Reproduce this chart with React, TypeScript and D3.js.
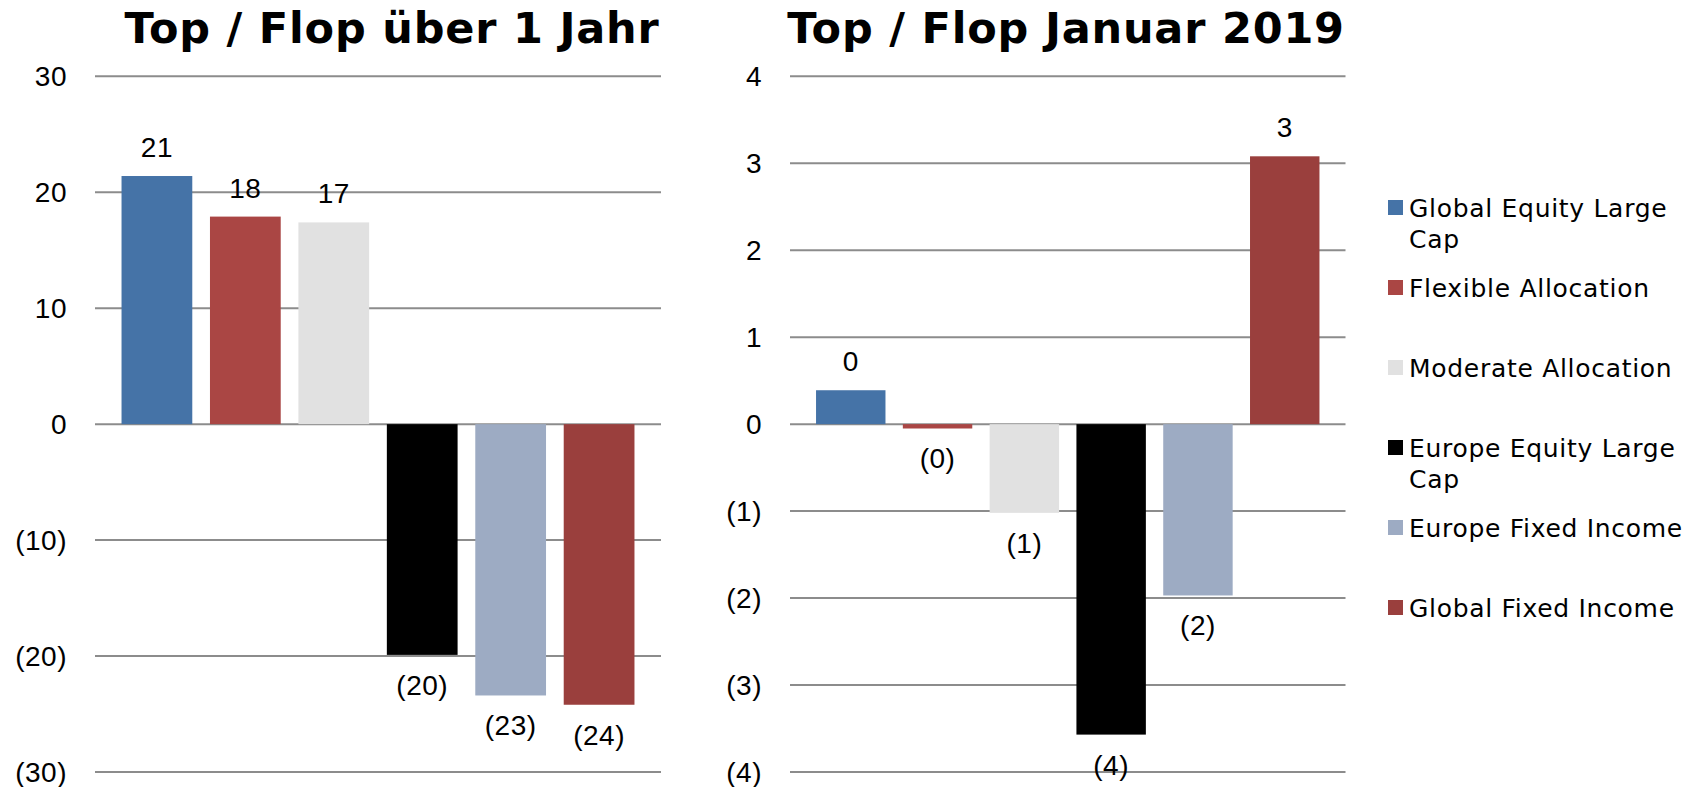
import { useEffect, useRef } from "react";
import * as d3 from "d3";

// Top / Flop charts - two bar panels sharing one legend

const categories = [
  "Global Equity Large Cap",
  "Flexible Allocation",
  "Moderate Allocation",
  "Europe Equity Large Cap",
  "Europe Fixed Income",
  "Global Fixed Income",
];
const colors = ["#4573A7", "#AA4644", "#E1E1E1", "#000000", "#9DABC3", "#9A3F3D"];

const yearValues = [21.4, 17.9, 17.4, -19.9, -23.4, -24.2];
const janValues = [0.39, -0.05, -1.02, -3.57, -1.97, 3.08];

const yearTicks = [30, 20, 10, 0, -10, -20, -30];
const janTicks = [4, 3, 2, 1, 0, -1, -2, -3, -4];

const titles = ["Top / Flop über 1 Jahr", "Top / Flop Januar 2019"];

const W = 1708;
const H = 787;

const fmt = (v: number) => {
  const r = Math.abs(Math.round(v));
  return v < 0 ? `(${r})` : `${r}`;
};

// wrap legend text into lines of at most n chars
function wrap(label: string, n: number) {
  const lines: string[] = [];
  let cur = "";
  label.split(" ").forEach((w) => {
    const next = cur ? cur + " " + w : w;
    if (next.length > n && cur) {
      lines.push(cur);
      cur = w;
    } else cur = next;
  });
  if (cur) lines.push(cur);
  return lines;
}

export default function App() {
  const svgRef = useRef<SVGSVGElement>(null);

  useEffect(() => {
    if (!svgRef.current) return;
    const svg = d3.select(svgRef.current);
    svg.selectAll("*").remove();

    const panels = [
      { values: yearValues, ticks: yearTicks, title: titles[0], x0: 95, x1: 661, titleX: 392 },
      { values: janValues, ticks: janTicks, title: titles[1], x0: 790, x1: 1345.5, titleX: 1066 },
    ];

    panels.forEach((p) => {
      const ext = d3.max(p.ticks.map(Math.abs)) as number;
      const y = d3.scaleLinear().domain([-ext, ext]).range([772, 76.3]);
      const x = d3
        .scaleBand<number>()
        .domain(d3.range(p.values.length))
        .range([p.x0, p.x1])
        .paddingInner(0.2)
        .paddingOuter(0.3);

      const g = svg.append("g");

      // title
      g.append("text")
        .attr("x", p.titleX)
        .attr("y", 43)
        .attr("text-anchor", "middle")
        .attr("font-family", "'DejaVu Sans', Verdana, sans-serif")
        .attr("font-weight", "bold")
        .attr("font-size", 43)
        .attr("letter-spacing", 0.8)
        .attr("fill", "#000")
        .text(p.title);

      // gridlines
      g.selectAll(".grid")
        .data(p.ticks)
        .enter()
        .append("line")
        .attr("x1", p.x0)
        .attr("x2", p.x1)
        .attr("y1", (d) => y(d))
        .attr("y2", (d) => y(d))
        .attr("stroke", "#8c8c8c")
        .attr("stroke-width", 2);

      // tick labels
      g.selectAll(".tick")
        .data(p.ticks)
        .enter()
        .append("text")
        .attr("x", p.x0 - 28)
        .attr("y", (d) => y(d) + 10)
        .attr("text-anchor", "end")
        .attr("font-family", "'Liberation Sans', Arial, sans-serif")
        .attr("font-size", 28)
        .attr("letter-spacing", 0.5)
        .attr("fill", "#000")
        .text((d) => fmt(d));

      // bars
      g.selectAll(".bar")
        .data(p.values)
        .enter()
        .append("rect")
        .attr("x", (d, i) => x(i) as number)
        .attr("width", x.bandwidth())
        .attr("y", (d) => y(Math.max(0, d)))
        .attr("height", (d) => Math.abs(y(d) - y(0)))
        .attr("fill", (d, i) => colors[i]);

      // value labels
      g.selectAll(".val")
        .data(p.values)
        .enter()
        .append("text")
        .attr("x", (d, i) => (x(i) as number) + x.bandwidth() / 2)
        .attr("y", (d) => (d >= 0 ? y(d) - 19 : y(d) + 40))
        .attr("text-anchor", "middle")
        .attr("font-family", "'Liberation Sans', Arial, sans-serif")
        .attr("font-size", 28)
        .attr("letter-spacing", 0.5)
        .attr("fill", "#000")
        .text((d) => fmt(d));
    });

    // legend
    const lg = svg.append("g");
    categories.forEach((c, i) => {
      const cy = 207.5 + i * 80;
      lg.append("rect")
        .attr("x", 1388)
        .attr("y", cy - 7.5)
        .attr("width", 15)
        .attr("height", 15)
        .attr("fill", colors[i]);
      wrap(c, 19).forEach((line, j) => {
        lg.append("text")
          .attr("x", 1409)
          .attr("y", cy + 9 + j * 31)
          .attr("font-family", "'DejaVu Sans', Verdana, sans-serif")
          .attr("font-size", 25)
          .attr("letter-spacing", 0.7)
          .attr("fill", "#000")
          .text(line);
      });
    });
  }, []);

  return (
    <svg
      ref={svgRef}
      width={W}
      height={H}
      style={{ position: "absolute", left: 0, top: 0, background: "#fff" }}
    />
  );
}
